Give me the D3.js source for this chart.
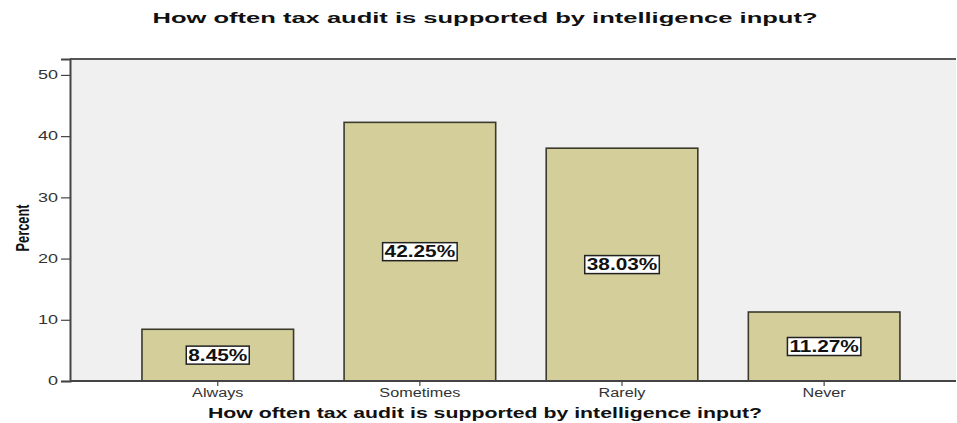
<!DOCTYPE html>
<html>
<head>
<meta charset="utf-8">
<script src="https://cdn.jsdelivr.net/npm/d3@7"></script>
<style>
  html, body { margin: 0; padding: 0; background: #ffffff; }
  svg { display: block; }
</style>
</head>
<body>
<script>
// Survey responses: how often a tax audit is supported by intelligence input
const categories = ["Always", "Sometimes", "Rarely", "Never"];
const percents = [8.45, 42.25, 38.03, 11.27];
const barLabels = ["8.45%", "42.25%", "38.03%", "11.27%"];
const yTicks = [0, 10, 20, 30, 40, 50];
const titleText = "How often tax audit is supported by intelligence input?";
const yTitle = "Percent";

const W = 957, H = 423;
const frame = { left: 70, top: 59, right: 956, bottom: 381 };
const FONT = "Liberation Sans, Arial, sans-serif";

const svg = d3.select("body").append("svg")
  .attr("width", W).attr("height", H);

// widen a text element horizontally by a factor (extended-face look)
function stretch(sel, factor) {
  sel.each(function () {
    const w = this.getComputedTextLength();
    d3.select(this)
      .attr("textLength", w * factor)
      .attr("lengthAdjust", "spacingAndGlyphs");
  });
}

const x = d3.scaleBand()
  .domain(categories)
  .range([116.7, 925.2])
  .paddingInner(0.25)
  .paddingOuter(0.125);

const y = d3.scaleLinear()
  .domain([0, 52.6])
  .range([frame.bottom, frame.top]);

// plot background
svg.append("rect")
  .attr("x", frame.left).attr("y", frame.top)
  .attr("width", frame.right - frame.left)
  .attr("height", frame.bottom - frame.top)
  .attr("fill", "#f0f0f0");

// top border of the frame
svg.append("line")
  .attr("x1", frame.left).attr("x2", frame.right)
  .attr("y1", frame.top).attr("y2", frame.top)
  .attr("stroke", "#555").attr("stroke-width", 2);

// bars
svg.append("g").selectAll("rect")
  .data(percents)
  .join("rect")
  .attr("x", (d, i) => x(categories[i]))
  .attr("y", d => y(d))
  .attr("width", x.bandwidth())
  .attr("height", d => y(0) - y(d))
  .attr("fill", "#d3ce9a")
  .attr("stroke", "#3b3a2c")
  .attr("stroke-width", 1.6);

// y axis
const yAxis = d3.axisLeft(y)
  .tickValues(yTicks)
  .tickSize(9)
  .tickPadding(3)
  .tickFormat(d3.format("d"));
const gy = svg.append("g")
  .attr("transform", `translate(${frame.left},0)`)
  .call(yAxis);
gy.select(".domain").attr("stroke", "#444").attr("stroke-width", 2);
gy.selectAll(".tick line").attr("stroke", "#444").attr("stroke-width", 1.2);
gy.selectAll(".tick text")
  .attr("font-family", FONT)
  .attr("font-size", 12)
  .attr("fill", "#333")
  .call(stretch, 1.5);

// x axis
const xAxis = d3.axisBottom(x).tickSize(5).tickPadding(2);
const gx = svg.append("g")
  .attr("transform", `translate(0,${frame.bottom})`)
  .call(xAxis);
gx.select(".domain").remove();
gx.append("line")
  .attr("x1", frame.left).attr("x2", frame.right)
  .attr("stroke", "#444").attr("stroke-width", 2);
gx.selectAll(".tick line").attr("stroke", "#444").attr("stroke-width", 1.2);
gx.selectAll(".tick text")
  .attr("font-family", FONT)
  .attr("font-size", 12)
  .attr("fill", "#333")
  .call(stretch, 1.35);

// value labels in the middle of each bar
const lbl = svg.append("g").selectAll("g")
  .data(percents)
  .join("g")
  .attr("transform", (d, i) =>
    `translate(${x(categories[i]) + x.bandwidth() / 2},${(y(0) + y(d)) / 2})`);
const boxes = lbl.append("rect")
  .attr("y", -9)
  .attr("height", 18)
  .attr("fill", "#ffffff")
  .attr("stroke", "#222").attr("stroke-width", 1.5);
const valueText = lbl.append("text")
  .attr("text-anchor", "middle")
  .attr("dy", "0.36em")
  .attr("font-family", FONT)
  .attr("font-weight", "bold")
  .attr("font-size", 16)
  .attr("fill", "#111")
  .text((d, i) => barLabels[i])
  .call(stretch, 1.3);
valueText.each(function (d, i) {
  const w = +d3.select(this).attr("textLength") + 4;
  d3.select(boxes.nodes()[i]).attr("x", -w / 2).attr("width", w);
});

// chart title
svg.append("text")
  .attr("x", 485).attr("y", 23)
  .attr("text-anchor", "middle")
  .attr("font-family", FONT)
  .attr("font-weight", "bold")
  .attr("font-size", 14)
  .attr("fill", "#111")
  .attr("textLength", 665)
  .attr("lengthAdjust", "spacingAndGlyphs")
  .text(titleText);

// x axis title
svg.append("text")
  .attr("x", 485).attr("y", 418)
  .attr("text-anchor", "middle")
  .attr("font-family", FONT)
  .attr("font-weight", "bold")
  .attr("font-size", 15)
  .attr("fill", "#111")
  .attr("textLength", 554)
  .attr("lengthAdjust", "spacingAndGlyphs")
  .text(titleText);

// y axis title (condensed)
svg.append("text")
  .attr("transform", "translate(29,228) rotate(-90)")
  .attr("text-anchor", "middle")
  .attr("font-family", FONT)
  .attr("font-weight", "bold")
  .attr("font-size", 18)
  .attr("fill", "#111")
  .attr("textLength", 47)
  .attr("lengthAdjust", "spacingAndGlyphs")
  .text(yTitle);
</script>
</body>
</html>
